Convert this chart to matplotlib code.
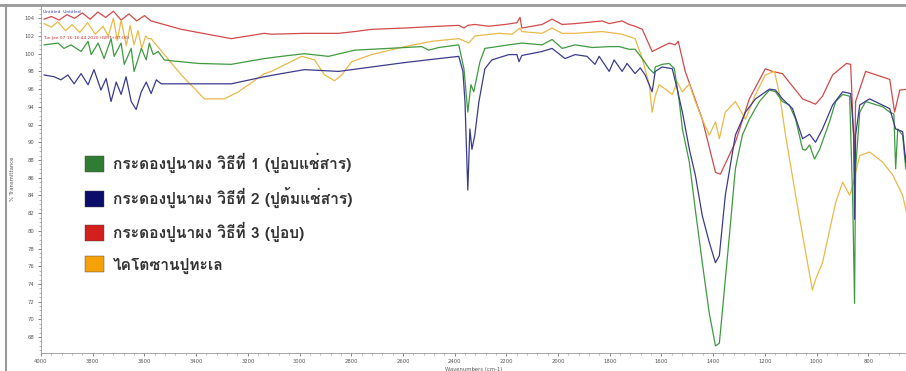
import numpy as np
import matplotlib
matplotlib.use("Agg")
import matplotlib.pyplot as plt
from matplotlib import font_manager
from matplotlib.patches import Patch
from matplotlib.lines import Line2D
from matplotlib.ticker import MultipleLocator
from fontTools.ttLib import TTFont

# ---- find an installed font that has Thai glyphs
thai_font = None
for f in font_manager.fontManager.ttflist:
    try:
        tt = TTFont(f.fname, fontNumber=0, lazy=True)
        if 0x0E01 in tt.getBestCmap():
            thai_font = f.name
            break
    except Exception:
        pass
fams = ([thai_font] if thai_font else []) + ['DejaVu Sans']

######## data (wavenumber cm-1, % transmittance)
wn_1 = [3988, 3934, 3911, 3884, 3845, 3818, 3806, 3779, 3756, 3729, 3717, 3690, 3678, 3651, 3640,
        3624, 3612, 3593, 3581, 3566, 3547, 3523, 3496, 3391, 3264, 3136, 3070, 2981, 2888, 2787,
        2655, 2527, 2500, 2461, 2384, 2364, 2349, 2337, 2326, 2302, 2283, 2190, 2140, 2062, 2023,
        1984, 1934, 1868, 1802, 1764, 1725, 1702, 1674, 1647, 1628, 1624, 1597, 1570, 1550, 1531,
        1519, 1492, 1469, 1442, 1415, 1391, 1376, 1364, 1337, 1314, 1287, 1260, 1221, 1182, 1159,
        1132, 1105, 1081, 1054, 1043, 1027, 1008, 988, 950, 926, 899, 872, 860, 853, 849,
        833, 810, 744, 717, 701, 694, 686, 667, 655, 643]
t_1 = [101.0, 101.2, 100.6, 101.0, 100.25, 101.4, 99.9, 101.2, 99.45, 101.7, 99.7, 101.2, 98.8, 100.6, 98.0,
       99.45, 100.6, 99.3, 101.2, 99.9, 100.25, 99.3, 99.2, 98.9, 98.8, 99.45, 99.7, 100.0, 99.7, 100.4,
       100.6, 100.8, 100.4, 100.7, 101.0, 98.3, 93.4, 96.5, 95.7, 99.1, 100.6, 101.0, 101.2, 101.0, 101.6,
       100.6, 101.0, 100.7, 100.8, 100.8, 100.5, 100.5, 99.45, 98.3, 97.75, 98.5, 98.8, 98.9, 98.3, 94.6,
       91.5, 87.75, 82.4, 76.4, 70.7, 67.0, 67.3, 71.0, 79.5, 87.0, 90.8, 92.6, 94.6, 95.9, 95.7,
       94.6, 94.2, 92.6, 89.2, 89.1, 89.7, 88.1, 89.2, 92.3, 94.6, 95.4, 95.2, 83.2, 71.8, 87.0,
       93.4, 94.6, 94.0, 93.4, 93.2, 87.0, 91.5, 90.8, 87.0, 90.8]

wn_2 = [3988, 3950, 3923, 3896, 3872, 3845, 3818, 3795, 3768, 3748, 3729, 3709, 3690, 3671, 3651,
        3632, 3612, 3593, 3574, 3554, 3535, 3496, 3391, 3264, 3136, 3070, 2981, 2849, 2721, 2593,
        2461, 2384, 2368, 2360, 2349, 2341, 2333, 2322, 2306, 2283, 2256, 2190, 2159, 2151, 2140,
        2062, 2023, 1973, 1934, 1888, 1857, 1841, 1802, 1783, 1752, 1733, 1702, 1682, 1663, 1636,
        1624, 1597, 1558, 1539, 1519, 1492, 1469, 1442, 1415, 1391, 1376, 1353, 1314, 1275, 1236,
        1182, 1159, 1132, 1093, 1054, 1027, 1004, 977, 938, 899, 868, 856, 853, 849, 833,
        795, 717, 694, 667, 655, 643]
t_2 = [97.6, 97.4, 97.05, 97.6, 96.6, 97.75, 96.5, 98.2, 95.9, 97.2, 94.6, 96.8, 95.4, 97.4, 94.6,
       93.7, 95.7, 96.8, 95.5, 97.05, 96.6, 96.6, 96.6, 96.6, 97.4, 97.75, 98.2, 98.0, 98.5, 99.0,
       99.45, 99.7, 98.0, 94.6, 84.6, 91.5, 89.2, 90.8, 94.6, 98.3, 99.3, 99.9, 99.9, 99.1, 99.8,
       100.25, 100.6, 99.45, 99.9, 99.7, 98.8, 99.7, 98.0, 99.3, 98.0, 98.9, 97.75, 98.4, 97.6, 95.7,
       98.0, 98.5, 98.3, 96.0, 93.4, 89.2, 86.3, 81.7, 78.7, 76.4, 77.2, 84.0, 90.8, 93.4, 94.9,
       96.0, 95.9, 94.9, 93.8, 90.4, 90.9, 90.0, 91.5, 94.2, 95.7, 95.5, 90.8, 81.3, 90.8, 94.2,
       94.9, 93.8, 91.5, 91.2, 87.75, 91.5]

wn_3 = [3988, 3960, 3930, 3900, 3870, 3840, 3810, 3780, 3750, 3720, 3690, 3660, 3630, 3600, 3574,
        3457, 3264, 3136, 3109, 2981, 2849, 2787, 2721, 2593, 2461, 2384, 2364, 2349, 2322, 2268,
        2205, 2159, 2147, 2140, 2062, 2023, 1984, 1934, 1829, 1802, 1752, 1725, 1702, 1674, 1636,
        1570, 1547, 1535, 1508, 1442, 1391, 1372, 1314, 1260, 1198, 1171, 1132, 1054, 1004, 977,
        938, 884, 868, 856, 853, 849, 810, 717, 698, 678, 643]
t_3 = [103.9, 104.2, 103.8, 104.4, 104.0, 104.6, 103.9, 104.7, 104.1, 104.8, 103.8, 104.5, 103.7, 104.3, 103.7,
       102.75, 101.7, 102.3, 102.2, 102.3, 102.3, 102.5, 102.75, 102.9, 103.1, 103.2, 102.9, 103.2, 103.3, 103.1,
       103.3, 103.5, 104.1, 102.9, 103.3, 103.9, 103.3, 103.4, 103.7, 103.4, 103.7, 103.3, 103.1, 102.75, 100.25,
       101.2, 101.0, 101.4, 98.0, 92.6, 86.6, 86.4, 90.0, 94.9, 98.3, 98.0, 97.75, 94.9, 94.3, 95.2,
       97.6, 98.9, 98.8, 90.0, 86.8, 94.6, 98.0, 97.1, 93.4, 95.9, 96.0]

wn_4 = [3988, 3960, 3935, 3905, 3880, 3850, 3820, 3790, 3760, 3740, 3720, 3705, 3690, 3670, 3655,
        3640, 3625, 3610, 3595, 3585, 3574, 3523, 3457, 3368, 3291, 3236, 3136, 3109, 2992, 2942,
        2903, 2864, 2837, 2798, 2721, 2593, 2488, 2384, 2360, 2345, 2322, 2229, 2178, 2147, 2140,
        2062, 2023, 1984, 1934, 1829, 1752, 1702, 1674, 1647, 1636, 1624, 1609, 1585, 1558, 1539,
        1519, 1492, 1469, 1442, 1415, 1391, 1376, 1353, 1314, 1275, 1236, 1198, 1163, 1143, 1120,
        1081, 1054, 1016, 1004, 977, 926, 899, 872, 860, 833, 795, 744, 705, 667, 643]
t_4 = [103.4, 103.0, 103.6, 102.6, 103.3, 102.4, 103.5, 102.2, 103.1, 102.0, 104.0, 101.5, 103.8, 100.9, 103.2,
       101.0, 102.6, 100.6, 102.0, 101.7, 101.7, 99.9, 97.6, 94.9, 94.9, 95.7, 97.75, 98.0, 99.7, 99.3,
       97.6, 96.95, 97.6, 99.1, 99.9, 100.8, 101.4, 101.7, 101.4, 101.2, 102.0, 102.3, 102.2, 102.9, 102.5,
       102.3, 102.9, 102.3, 102.3, 102.5, 102.2, 101.7, 99.45, 96.5, 93.4, 95.2, 96.5, 96.0, 95.4, 96.8,
       95.7, 96.6, 94.6, 92.6, 90.8, 92.3, 90.4, 93.4, 94.6, 92.6, 95.4, 97.6, 98.0, 95.4, 90.8,
       84.0, 79.5, 73.3, 74.5, 76.4, 83.2, 85.5, 84.0, 85.1, 88.5, 88.9, 87.75, 86.3, 84.0, 80.9]

labels = ['กระดองปูนาผง วิธีที่ 1 (ปูอบแช่สาร)',
          'กระดองปูนาผง วิธีที่ 2 (ปูต้มแช่สาร)',
          'กระดองปูนาผง วิธีที่ 3 (ปูอบ)',
          'ไคโตซานปูทะเล']
line_colors = ['#3f9a3f', '#3b3b8c', '#d24a4a', '#e9b949']
box_colors = ['#2e7d32', '#0c0c6a', '#d41f1f', '#f5a10a']

fig = plt.figure(figsize=(9.06, 3.71), dpi=100)
ax = fig.add_axes([41 / 906, 18 / 371, 865 / 906, 348 / 371])

ax.plot(wn_3, t_3, color=line_colors[2], lw=0.9)
ax.plot(wn_4, t_4, color=line_colors[3], lw=0.9)
ax.plot(wn_1, t_1, color=line_colors[0], lw=0.9)
ax.plot(wn_2, t_2, color=line_colors[1], lw=0.9)

ax.set_xlim(4000, 654)
ax.set_ylim(66.2, 105.5)
ax.xaxis.set_major_locator(MultipleLocator(200))
ax.xaxis.set_minor_locator(MultipleLocator(40))
ax.yaxis.set_major_locator(MultipleLocator(2))
ax.yaxis.set_minor_locator(MultipleLocator(0.5))
ax.tick_params(labelsize=3.8, colors='#555555', length=2.5, width=0.5, pad=2)
ax.tick_params(which='minor', length=1.2, width=0.4, colors='#888888')
for s in ['top', 'right']:
    ax.spines[s].set_visible(False)
for s in ['left', 'bottom']:
    ax.spines[s].set_color('#999999')
    ax.spines[s].set_linewidth(0.6)
ax.set_xlabel('Wavenumbers (cm-1)', fontsize=3.8, color='#555555', labelpad=2)
ax.set_ylabel('% Transmittance', fontsize=3.8, color='#555555', labelpad=7)

# header text of the instrument software
ax.text(0.002, 0.985, 'Untitled  Untitled', transform=ax.transAxes, fontsize=3.2, color='#3b3bb0', va='top')
ax.text(0.002, 0.91, 'Tue Jan 07 16:16:44 2020 (GMT+07:00)', transform=ax.transAxes,
        fontsize=3.2, color='#c83030', va='top')

handles = [Patch(facecolor=c, edgecolor='#444444', linewidth=0.3) for c in box_colors]
leg = ax.legend(handles, labels, loc='upper left', bbox_to_anchor=(0.051, 0.575),
                frameon=False, handlelength=1.2, handleheight=1.2, handletextpad=0.6,
                labelspacing=0.9, borderaxespad=0, borderpad=0,
                prop={'family': fams, 'size': 11.2, 'weight': 'bold'})
for t in leg.get_texts():
    t.set_color('#333333')

# grey frame of the screenshot
fig.add_artist(Line2D([0, 1], [1 - 5 / 371, 1 - 5 / 371], transform=fig.transFigure, color='#999999', lw=2))
fig.add_artist(Line2D([6 / 906, 6 / 906], [0, 1 - 5 / 371], transform=fig.transFigure, color='#999999', lw=1.5))

fig.savefig('out.png', dpi=100)
